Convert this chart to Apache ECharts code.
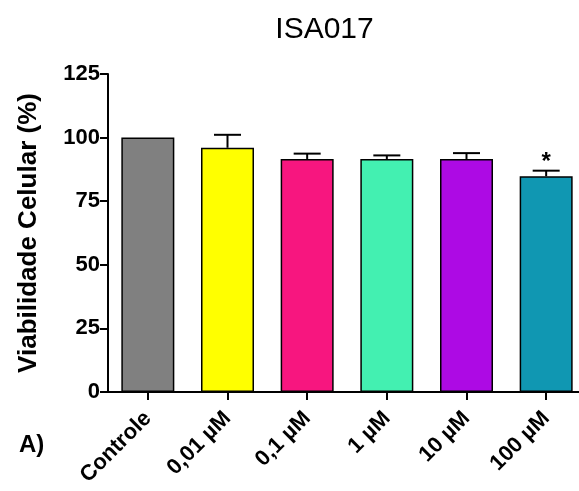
<!DOCTYPE html>
<html><head><meta charset="utf-8">
<script src="https://cdn.jsdelivr.net/npm/echarts@6/dist/echarts.min.js"></script>
<style>html,body{margin:0;padding:0;background:#fff}#c{width:579px;height:491px}</style>
</head><body><div id="c"></div>
<script>
const categories = ['Controle', '0,01 µM', '0,1 µM', '1 µM', '10 µM', '100 µM'];
const means = [100, 96.0, 91.6, 91.6, 91.6, 84.8];
const errors = [0, 5.1, 2.1, 1.4, 2.3, 2.2];
const significance = ['', '', '', '', '', '*'];
const colors = ['#808080', '#ffff00', '#f7167f', '#43f0b1', '#ad0ae4', '#1097b2'];
const yTicks = [0, 25, 50, 75, 100, 125];

const chart = echarts.init(document.getElementById('c'), null, {renderer: 'canvas'});
const F = 'Liberation Sans, Arial, sans-serif';
chart.setOption({
  animation: false,
  backgroundColor: '#fff',
  title: {text: 'ISA017', left: 319.5, top: 10, textAlign: 'center',
    textStyle: {fontFamily: F, fontWeight: 'normal', fontSize: 30, color: '#000'}},
  graphic: [{type: 'text', left: 19, top: 433,
    style: {text: 'A)', fontFamily: F, fontWeight: 'bold', fontSize: 24, fill: '#000'}}],
  grid: {left: 108, width: 478, top: 74, height: 318, containLabel: false, outerBoundsMode: 'none'},
  xAxis: {
    type: 'category', data: categories,
    axisLine: {lineStyle: {color: '#000', width: 2}},
    axisTick: {show: true, alignWithLabel: true, length: 8, lineStyle: {color: '#000', width: 2}},
    axisLabel: {rotate: 45, margin: 23, fontFamily: F, fontWeight: 'bold', fontSize: 22, color: '#000', interval: 0}
  },
  yAxis: {
    type: 'value', min: 0, max: 125, interval: 25,
    name: 'Viabilidade Celular (%)', nameLocation: 'middle', nameGap: 66,
    nameTextStyle: {fontFamily: F, fontWeight: 'bold', fontSize: 26, color: '#000'},
    axisLine: {show: true, lineStyle: {color: '#000', width: 2}},
    axisTick: {show: true, length: 8, lineStyle: {color: '#000', width: 2}},
    splitLine: {show: false},
    axisLabel: {margin: 8, fontFamily: F, fontWeight: 'bold', fontSize: 22, color: '#000',
      formatter: v => yTicks.includes(v) ? String(v) : ''}
  },
  series: [
    {type: 'bar', barWidth: 53, z: 2,
     data: means.map((v, i) => ({value: v, itemStyle: {color: colors[i], borderColor: '#000', borderWidth: 1.5}}))},
    {type: 'custom', z: 3,
     data: means.map((v, i) => [i, v, errors[i], significance[i]]),
     renderItem: function (params, api) {
       const i = api.value(0), m = api.value(1), e = api.value(2);
       const sig = significance[i];
       const base = api.coord([i, m]);
       const top = api.coord([i, m + e]);
       const children = [];
       if (e > 0) {
         children.push({type: 'line', shape: {x1: base[0], y1: base[1], x2: top[0], y2: top[1]},
           style: {stroke: '#000', lineWidth: 2}});
         children.push({type: 'line', shape: {x1: top[0] - 13.5, y1: top[1], x2: top[0] + 13.5, y2: top[1]},
           style: {stroke: '#000', lineWidth: 2}});
       }
       if (sig) {
         children.push({type: 'text', x: top[0], y: top[1] + 4,
           style: {text: sig, fontFamily: F, fontWeight: 'bold', fontSize: 24, fill: '#000', align: 'center', verticalAlign: 'bottom'}});
       }
       return {type: 'group', children: children};
     }}
  ]
});
</script></body></html>
